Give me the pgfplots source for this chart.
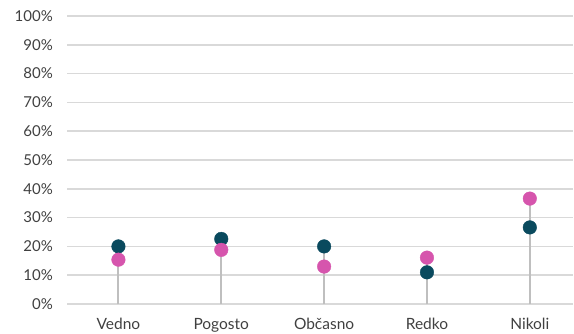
\documentclass[border=0pt]{standalone}
\usepackage{pgfplots}
\pgfplotsset{compat=1.18}
\usepackage{fontspec}
\setmainfont{Lato}
\definecolor{teal}{HTML}{0A4A5E}
\definecolor{pink}{HTML}{D655AD}
\definecolor{gridc}{HTML}{D9D9D9}
\definecolor{stemc}{HTML}{BFBFBF}
\definecolor{txt}{HTML}{404040}
\begin{document}
\fontsize{15bp}{17bp}\selectfont
\begin{tikzpicture}[x=1bp,y=1bp]
\path[use as bounding box] (-67,-29) rectangle (507,304);
\begin{axis}[
  at={(0,0)}, anchor=south west,
  scale only axis, width=506bp, height=288bp,
  xmin=-0.5, xmax=4.42, ymin=0, ymax=100,
  axis line style={draw=none},
  xtick={0,1,2,3,4},
  xticklabels={Vedno,Pogosto,Občasno,Redko,Nikoli},
  ytick={0,10,...,100},
  yticklabel={\pgfmathprintnumber{\tick}\%},
  /pgf/number format/assume math mode=true,
  major tick length=0pt,
  ymajorgrids, grid style={gridc, line width=1.5bp},
  xtick style={draw=none}, ytick style={draw=none},
  xticklabel style={inner sep=0pt, anchor=north, yshift=-14bp, text=txt, font=\fontsize{15.5bp}{17bp}\selectfont},
  yticklabel style={inner sep=0pt, anchor=east, xshift=-14bp, text=txt, font=\fontsize{15bp}{17bp}\selectfont},
  clip=false,
]
\addplot[ycomb, color=stemc, line width=2bp, no marks] coordinates {(0,20.0) (1,22.6) (2,20.0) (3,16.1) (4,36.6)};
\addplot[only marks, color=teal, mark=*, mark size=6.8bp, mark options={solid, draw=teal, fill=teal, line width=0.4bp}] coordinates {(0,20.0) (1,22.6) (2,20.0) (3,11.0) (4,26.6)};
\addplot[only marks, color=pink, mark=*, mark size=6.8bp, mark options={solid, draw=pink, fill=pink, line width=0.4bp}] coordinates {(0,15.4) (1,18.8) (2,13.0) (3,16.1) (4,36.6)};
\end{axis}
\end{tikzpicture}
\end{document}
